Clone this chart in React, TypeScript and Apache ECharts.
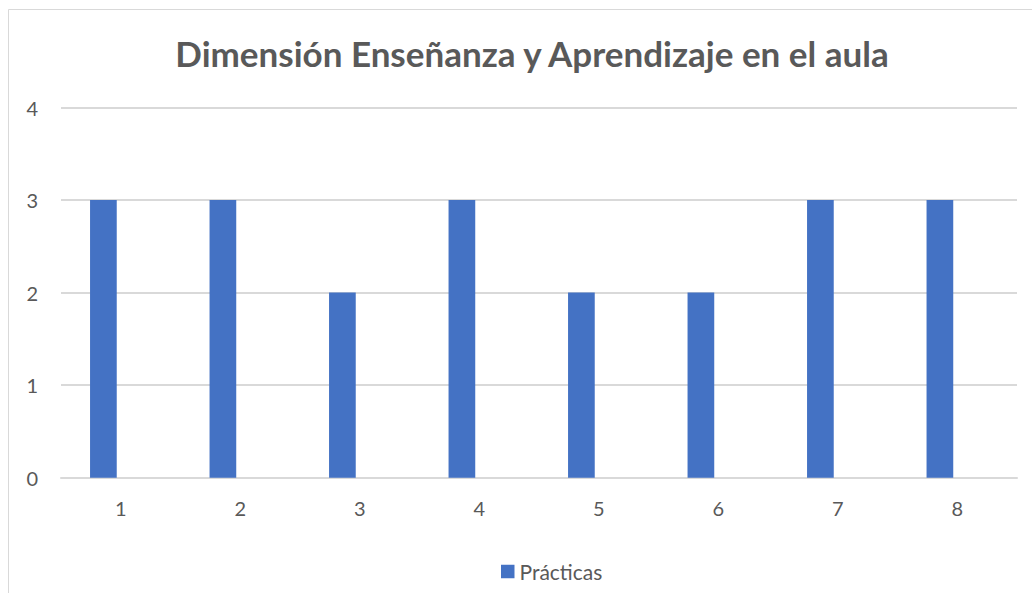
import React, { useEffect, useRef } from "react";
import * as echarts from "echarts";

const categories = ["1", "2", "3", "4", "5", "6", "7", "8"];
const practicas = [3, 3, 2, 3, 2, 2, 3, 3];
const emptySeries = [null, null, null, null, null, null, null, null];
const yTicks = [0, 1, 2, 3, 4];

export default function App() {
  const ref = useRef<HTMLDivElement>(null);
  useEffect(() => {
    if (!ref.current) return;
    const chart = echarts.init(ref.current, null, { renderer: "svg" });
    const font = "Lato, 'Open Sans', sans-serif";
    chart.setOption({
      animation: false,
      backgroundColor: "#ffffff",
      title: {
        text: "Dimensión Enseñanza y Aprendizaje en el aula",
        left: 527,
        textAlign: "center",
        top: 30,
        textStyle: { color: "#595959", fontSize: 35, fontWeight: "bold", fontFamily: font },
      },
      graphic: [
        {
          type: "rect",
          shape: { x: 8.5, y: 9.5, width: 1040, height: 600 },
          style: { fill: "none", stroke: "#d9d9d9", lineWidth: 1 },
          silent: true,
        },
      ],
      legend: {
        data: ["Prácticas"],
        left: 496,
        top: 556,
        itemWidth: 13.5,
        itemHeight: 13.5,
        itemGap: 7,
        icon: "rect",
        textStyle: { color: "#595959", fontSize: 21, fontFamily: font },
      },
      grid: { left: 61, right: 15, top: 107.5, bottom: 115.3 },
      xAxis: {
        type: "category",
        data: categories,
        axisLine: { lineStyle: { color: "#d9d9d9", width: 2 } },
        axisTick: { show: false },
        axisLabel: { color: "#595959", fontSize: 20, fontFamily: font, margin: 20 },
      },
      yAxis: {
        type: "value",
        min: yTicks[0],
        max: yTicks[yTicks.length - 1],
        interval: 1,
        axisLine: { show: false },
        axisTick: { show: false },
        splitLine: { lineStyle: { color: "#d9d9d9", width: 2 } },
        axisLabel: { color: "#595959", fontSize: 20, fontFamily: font, margin: 23 },
      },
      series: [
        {
          name: "Prácticas",
          type: "bar",
          data: practicas,
          barWidth: 26.7,
          barGap: "30%",
          itemStyle: { color: "#4472c4" },
        },
        {
          name: "empty",
          type: "bar",
          data: emptySeries,
          barWidth: 26.7,
          itemStyle: { color: "#ed7d31" },
        },
      ],
    });
    return () => chart.dispose();
  }, []);
  return (
    <div
      ref={ref}
      style={{ position: "fixed", left: 0, top: 0, width: 1032, height: 593 }}
    />
  );
}
